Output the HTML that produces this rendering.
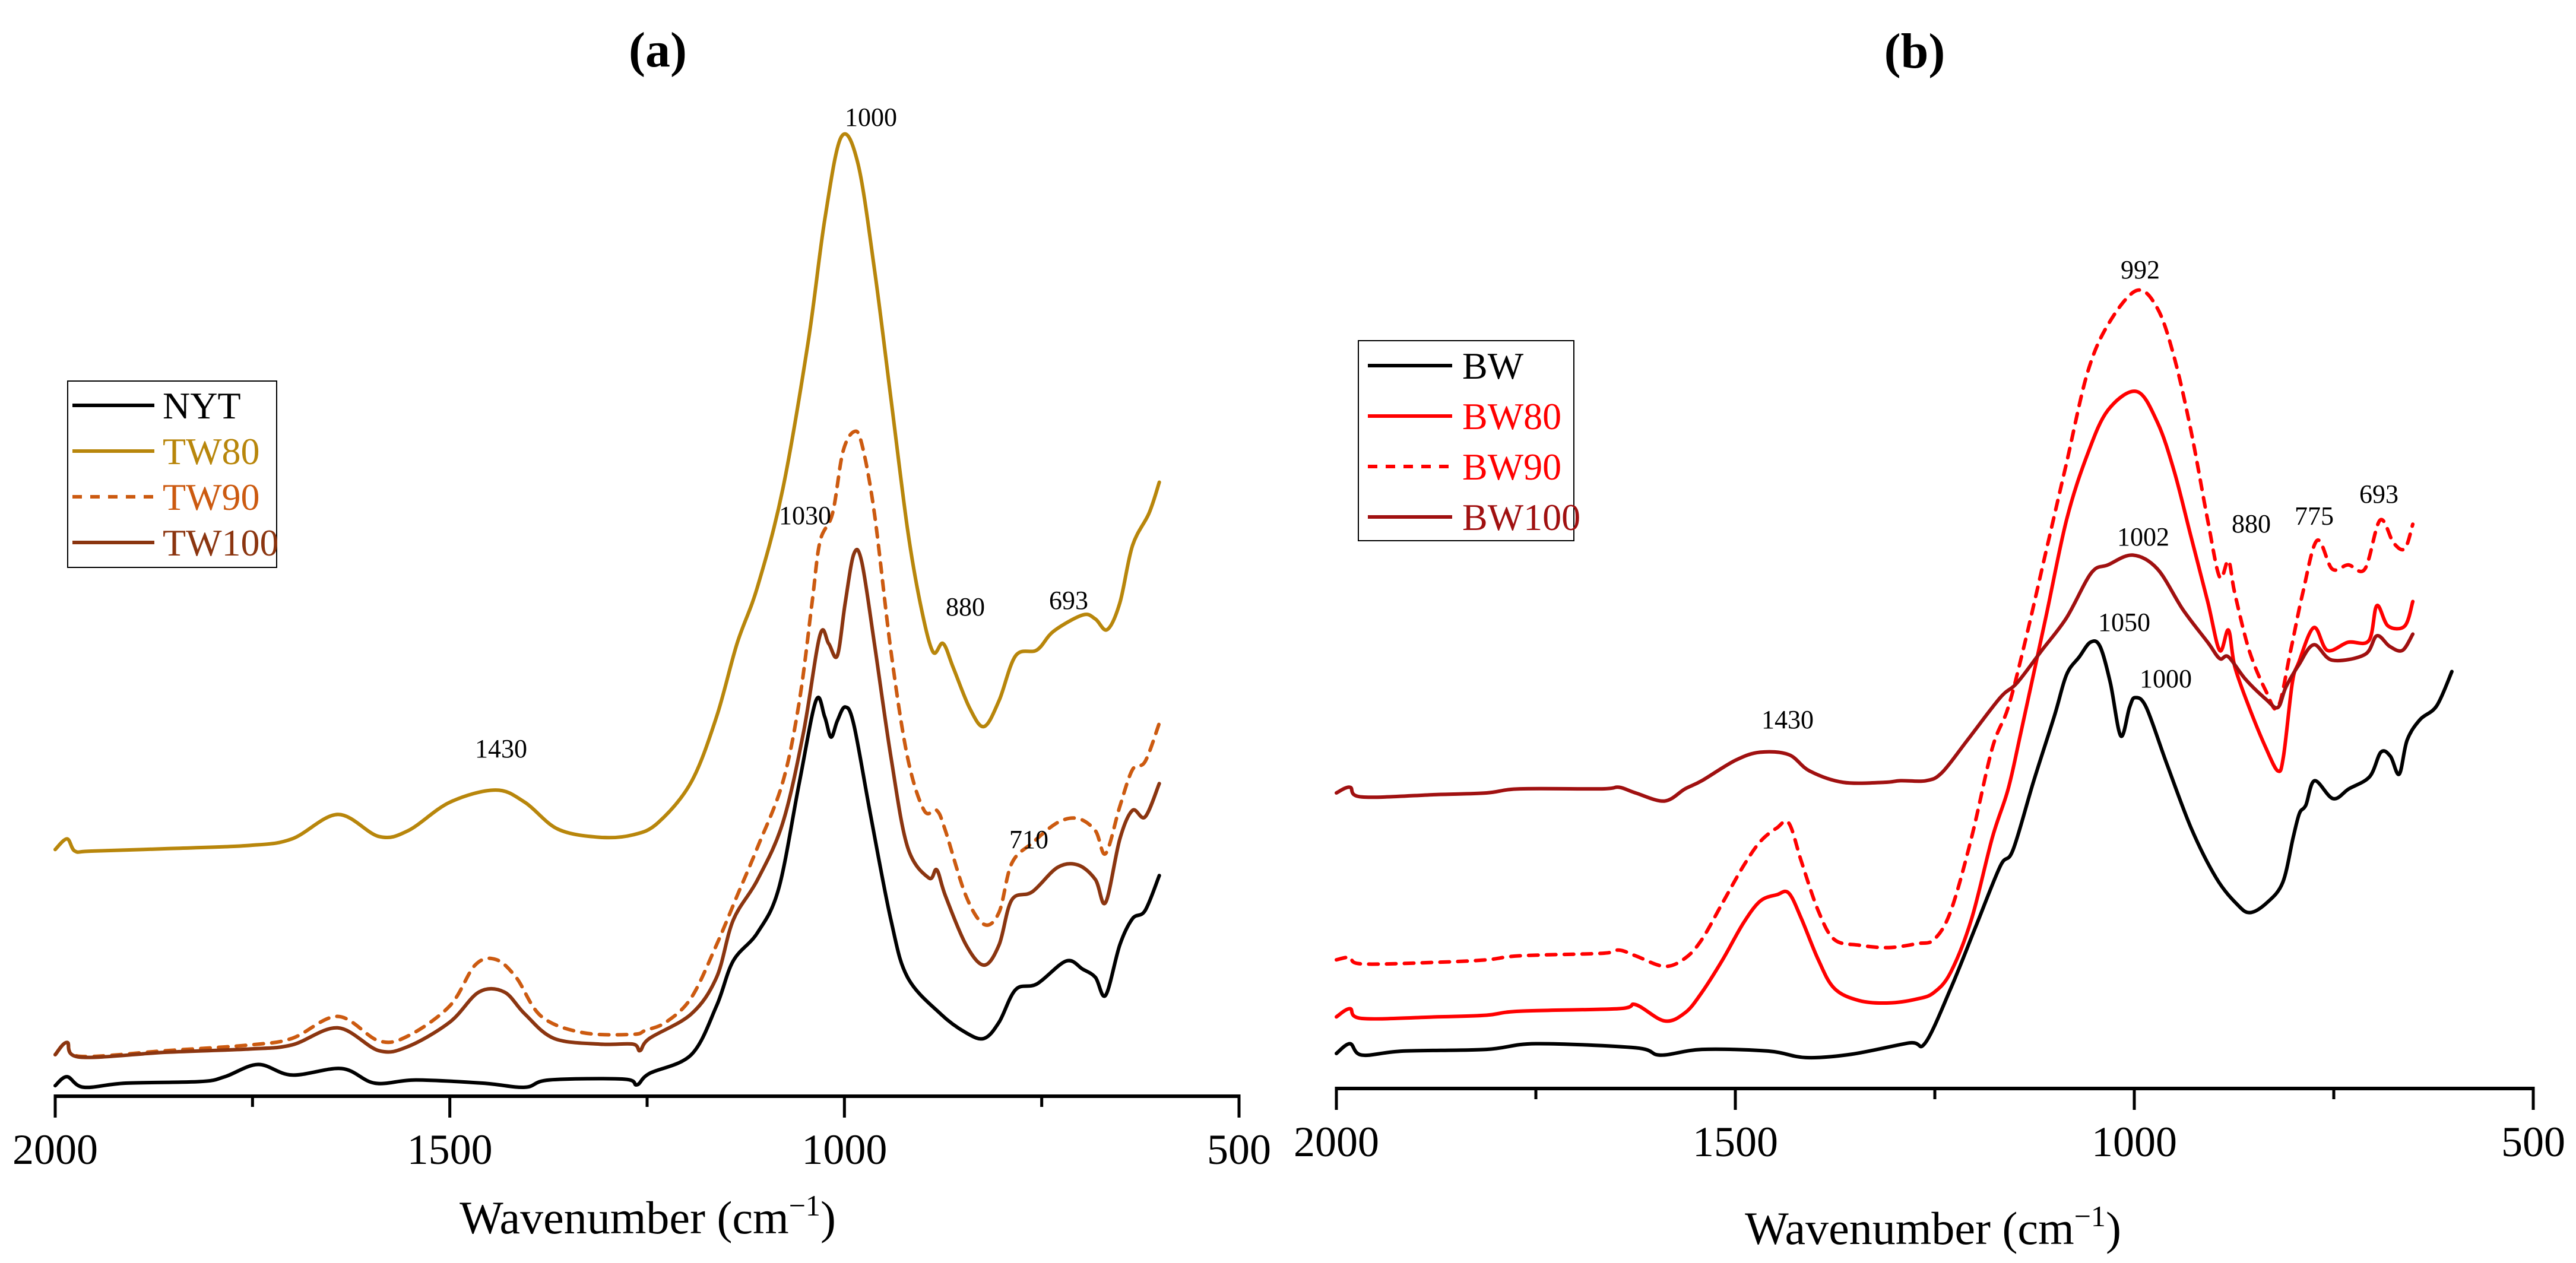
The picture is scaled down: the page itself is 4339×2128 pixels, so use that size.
<!DOCTYPE html>
<html><head><meta charset="utf-8"><style>
html,body{margin:0;padding:0;background:#fff;}
svg{display:block;font-family:"Liberation Serif","Times New Roman",serif;}
</style></head><body>
<svg id="chart" width="4339" height="2128" viewBox="0 0 4339 2128" xmlns="http://www.w3.org/2000/svg">
<g id="panelA"></g>
<g id="panelB"></g>
</svg>
<script>
// ---- Panel (a) data ----
const nytWn=[2000,1985,1964,1911,1816,1785,1743,1700,1637,1595,1543,1458,1405,1374,1279,1263,1247,1194,1162,1141,1110,1083,1057,1036,1025,1017,1009,999,988,967,941,920,878,846,823,804,783,756,719,698,682,669,651,635,619,601];
const nytVal=[0.13,0.24,0.11,0.16,0.18,0.24,0.39,0.26,0.34,0.16,0.20,0.16,0.11,0.20,0.21,0.14,0.28,0.51,1.11,1.66,2.01,2.56,3.86,4.86,4.66,4.41,4.61,4.78,4.56,3.46,2.16,1.46,1.01,0.78,0.71,0.91,1.31,1.38,1.66,1.56,1.46,1.24,1.86,2.18,2.28,2.71];
const tw80Wn=[2000,1985,1975,1954,1859,1753,1700,1642,1590,1553,1500,1442,1405,1363,1310,1268,1236,1194,1162,1136,1110,1078,1046,1025,1004,983,962,941,920,904,888,875,862,841,823,804,783,756,735,698,682,667,651,635,614,601];
const tw80Val=[3.03,3.16,3.01,3.01,3.04,3.08,3.16,3.46,3.19,3.26,3.61,3.76,3.61,3.28,3.18,3.21,3.36,3.86,4.66,5.56,6.26,7.46,9.26,10.76,11.78,11.46,10.16,8.56,6.96,6.06,5.46,5.56,5.26,4.76,4.54,4.86,5.41,5.48,5.71,5.91,5.86,5.73,6.06,6.76,7.16,7.54];
const tw90Wn=[2000,1985,1969,1859,1753,1700,1642,1590,1553,1500,1468,1442,1416,1384,1331,1268,1252,1226,1194,1162,1136,1110,1078,1057,1041,1031,1015,1002,988,978,962,941,920,899,883,872,846,823,804,788,762,730,704,682,669,651,635,619,601];
const tw90Val=[0.51,0.66,0.49,0.56,0.63,0.71,0.98,0.68,0.74,1.11,1.61,1.68,1.46,0.98,0.78,0.76,0.81,0.91,1.21,1.86,2.46,3.06,3.86,4.86,6.06,6.81,7.16,7.91,8.16,8.01,7.16,5.46,4.16,3.51,3.51,3.26,2.46,2.11,2.26,2.86,3.11,3.36,3.41,3.26,2.98,3.56,4.01,4.11,4.58];
const tw100Wn=[2000,1985,1969,1859,1753,1700,1642,1590,1553,1500,1463,1431,1405,1368,1310,1268,1259,1247,1194,1162,1141,1110,1078,1052,1031,1020,1009,999,988,978,962,941,920,893,883,872,846,823,804,788,762,730,704,682,669,651,635,619,601];
const tw100Val=[0.51,0.66,0.48,0.54,0.58,0.63,0.84,0.56,0.61,0.91,1.28,1.28,1.01,0.71,0.64,0.64,0.56,0.71,1.01,1.46,2.16,2.66,3.36,4.46,5.66,5.56,5.41,6.06,6.66,6.56,5.56,4.16,3.06,2.68,2.78,2.46,1.86,1.61,1.86,2.41,2.51,2.81,2.84,2.66,2.38,3.16,3.51,3.43,3.84];
// ---- Panel (b) data ----
const bwWn=[2000,1983,1968,1916,1812,1750,1625,1594,1542,1459,1412,1355,1282,1262,1230,1199,1168,1152,1126,1100,1085,1069,1055,1043,1030,1017,1006,999,985,959,928,897,871,855,834,814,801,793,785,774,751,731,705,691,679,668,658,642,621,602];
const bwVal=[0.43,0.55,0.41,0.46,0.48,0.55,0.50,0.41,0.48,0.46,0.38,0.42,0.56,0.56,1.23,1.98,2.73,2.93,3.78,4.58,5.08,5.30,5.48,5.43,4.98,4.33,4.68,4.80,4.68,3.98,3.18,2.58,2.26,2.16,2.28,2.53,3.08,3.38,3.48,3.78,3.56,3.68,3.83,4.13,4.08,3.86,4.28,4.53,4.70,5.12];
const bw80Wn=[2000,1983,1968,1874,1812,1770,1646,1625,1589,1563,1542,1516,1490,1469,1448,1433,1417,1396,1376,1345,1308,1272,1251,1230,1204,1178,1158,1142,1111,1085,1059,1033,997,971,950,929,908,893,882,874,856,835,820,813,802,794,775,758,732,706,696,682,661,651];
const bw80Val=[0.88,0.98,0.86,0.88,0.90,0.95,0.98,1.03,0.83,0.93,1.18,1.58,2.03,2.30,2.38,2.40,2.08,1.58,1.23,1.08,1.05,1.10,1.18,1.43,2.08,3.08,3.68,4.38,5.78,6.98,7.78,8.33,8.56,8.18,7.58,6.78,5.98,5.38,5.63,5.18,4.68,4.18,3.90,4.08,4.98,5.23,5.66,5.38,5.48,5.50,5.93,5.68,5.68,5.98];
const bw90Wn=[2000,1983,1968,1874,1812,1770,1667,1646,1625,1589,1563,1542,1516,1490,1469,1448,1433,1417,1396,1376,1345,1308,1272,1251,1230,1204,1178,1158,1137,1111,1085,1059,1033,997,971,950,929,908,893,882,874,856,835,820,804,789,771,752,732,711,692,675,661,651];
const bw90Val=[1.58,1.61,1.53,1.55,1.58,1.63,1.66,1.70,1.63,1.50,1.60,1.83,2.28,2.73,3.03,3.20,3.26,2.78,2.18,1.83,1.76,1.73,1.78,1.83,2.18,3.08,4.18,4.68,5.48,6.58,7.68,8.78,9.38,9.80,9.58,8.98,8.08,6.98,6.28,6.48,6.08,5.38,4.88,4.68,5.38,6.08,6.73,6.38,6.43,6.38,6.98,6.70,6.63,6.93];
const bw100Wn=[2000,1983,1968,1874,1812,1770,1667,1646,1625,1589,1563,1542,1500,1469,1433,1407,1365,1313,1293,1261,1241,1209,1168,1147,1116,1085,1054,1033,1002,971,939,908,893,882,861,835,820,810,794,775,752,711,696,680,664,651];
const bw100Val=[3.63,3.70,3.58,3.61,3.63,3.68,3.68,3.70,3.63,3.53,3.68,3.78,4.03,4.13,4.10,3.90,3.76,3.76,3.78,3.78,3.88,4.28,4.80,4.98,5.38,5.78,6.33,6.43,6.55,6.38,5.88,5.48,5.28,5.30,5.03,4.78,4.68,4.93,5.20,5.45,5.26,5.33,5.56,5.43,5.38,5.58];
const tickValues=[2000,1500,1000,500];
const minorTickValues=[1750,1250,750];
const legendA=["NYT","TW80","TW90","TW100"];
const legendB=["BW","BW80","BW90","BW100"];
const annA=[["1000",1467,212],["1030",1356,883],["880",1626,1037],["693",1800,1026],["1430",844,1276],["710",1733,1429]];
const annB=[["992",3605,469],["1002",3610,919],["880",3792,897],["775",3898,884],["693",4007,847],["1050",3578,1063],["1000",3648,1158],["1430",3011,1227]];

const NS="http://www.w3.org/2000/svg";
function mk(parent,tag,attrs){const e=document.createElementNS(NS,tag);for(const k in attrs)e.setAttribute(k,attrs[k]);parent.appendChild(e);return e;}

function smoothPath(pts){
  let d="M"+pts[0][0].toFixed(1)+","+pts[0][1].toFixed(1);
  for(let i=0;i<pts.length-1;i++){
    const p0=pts[Math.max(0,i-1)],p1=pts[i],p2=pts[i+1],p3=pts[Math.min(pts.length-1,i+2)];
    const c1x=p1[0]+(p2[0]-p0[0])/6,c1y=p1[1]+(p2[1]-p0[1])/6;
    const c2x=p2[0]-(p3[0]-p1[0])/6,c2y=p2[1]-(p3[1]-p1[1])/6;
    d+="C"+c1x.toFixed(1)+","+c1y.toFixed(1)+" "+c2x.toFixed(1)+","+c2y.toFixed(1)+" "+p2[0].toFixed(1)+","+p2[1].toFixed(1);
  }
  return d;
}

function drawPanel(g,cfg){
  const xS=w=>cfg.x0+(2000-w)/1500*(cfg.x1-cfg.x0);
  const yS=v=>cfg.y0-v*137.2;
  cfg.series.forEach(s=>{
    const n=Math.min(s.wn.length,s.val.length);
    const pts=[];
    for(let i=0;i<n;i++)pts.push([xS(s.wn[i]),yS(s.val[i])]);
    const p=mk(g,"path",{d:smoothPath(pts),fill:"none",stroke:s.color,"stroke-width":6,"stroke-linejoin":"round","stroke-linecap":"round"});
    if(s.dash)p.setAttribute("stroke-dasharray","16 14");
    
    
  });
  const ax=mk(g,"line",{x1:cfg.x0,x2:cfg.x1,y1:cfg.y0,y2:cfg.y0,stroke:"#000","stroke-width":6});
  
  
  tickValues.forEach(t=>{
    const x=xS(t);
    const tk=mk(g,"line",{x1:x,x2:x,y1:cfg.y0-3,y2:cfg.y0+36,stroke:"#000","stroke-width":5});
    
    
    const tl=mk(g,"text",{x:x,y:cfg.y0+114,"font-size":72,"text-anchor":"middle",fill:"#000"});
    tl.textContent=t;
    
    
  });
  minorTickValues.forEach(t=>{
    const x=xS(t);
    const tk=mk(g,"line",{x1:x,x2:x,y1:cfg.y0-3,y2:cfg.y0+18,stroke:"#000","stroke-width":5});
    
    
  });
  const at=mk(g,"text",{x:cfg.titleX,y:cfg.titleY,"font-size":78,"text-anchor":"middle",fill:"#000"});
  at.innerHTML='Wavenumber (cm<tspan dy="-30" font-size="50">−1</tspan><tspan dy="30">)</tspan>';
  
  
  const pt=mk(g,"text",{x:cfg.ptX,y:cfg.ptY,"font-size":84,"font-weight":"bold","text-anchor":"middle",fill:"#000"});
  pt.textContent=cfg.pt;
  
  
  cfg.ann.forEach(a=>{
    const t=mk(g,"text",{x:a[1],y:a[2],"font-size":44,"text-anchor":"middle",fill:"#000"});
    t.textContent=a[0];
    
    
  });
  const L=cfg.legend;
  const lg=mk(g,"g",{});
  
  
  mk(lg,"rect",{x:L.x,y:L.y,width:L.w,height:L.h,fill:"#fff",stroke:"#000","stroke-width":2});
  cfg.series.forEach((s,i)=>{
    const y=L.ey0+i*L.dy;
    const ln=mk(lg,"line",{x1:L.lx0,x2:L.lx1,y1:y,y2:y,stroke:s.color,"stroke-width":6});
    if(s.dash)ln.setAttribute("stroke-dasharray","16 14");
    
    
    const tx=mk(lg,"text",{x:L.tx,y:y+22,"font-size":64,fill:s.color});
    tx.textContent=s.label;
    
    
  });
}

drawPanel(document.getElementById("panelA"),{
  x0:93,x1:2087,y0:1847,titleX:1091,titleY:2078,ptX:1108,ptY:112,pt:"(a)",ann:annA,
  legend:{x:114,y:642,w:352,h:314,ey0:683,dy:77,lx0:122,lx1:260,tx:274},
  series:[
    {wn:nytWn,val:nytVal,color:"#000000",label:legendA[0],dataName:"series-nyt"},
    {wn:tw80Wn,val:tw80Val,color:"#B8860B",label:legendA[1],dataName:"series-tw80"},
    {wn:tw90Wn,val:tw90Val,color:"#CC5A10",dash:true,label:legendA[2],dataName:"series-tw90"},
    {wn:tw100Wn,val:tw100Val,color:"#8B3510",label:legendA[3],dataName:"series-tw100"}
  ]
});
drawPanel(document.getElementById("panelB"),{
  x0:2251,x1:4267,y0:1834,titleX:3256,titleY:2096,ptX:3225,ptY:114,pt:"(b)",ann:annB,
  legend:{x:2288,y:574,w:363,h:337,ey0:616,dy:85,lx0:2304,lx1:2446,tx:2463},
  series:[
    {wn:bwWn,val:bwVal,color:"#000000",label:legendB[0],dataName:"series-bw"},
    {wn:bw80Wn,val:bw80Val,color:"#FF0000",label:legendB[1],dataName:"series-bw80"},
    {wn:bw90Wn,val:bw90Val,color:"#FF0000",dash:true,label:legendB[2],dataName:"series-bw90"},
    {wn:bw100Wn,val:bw100Val,color:"#A01010",label:legendB[3],dataName:"series-bw100"}
  ]
});
</script>
</body></html>
